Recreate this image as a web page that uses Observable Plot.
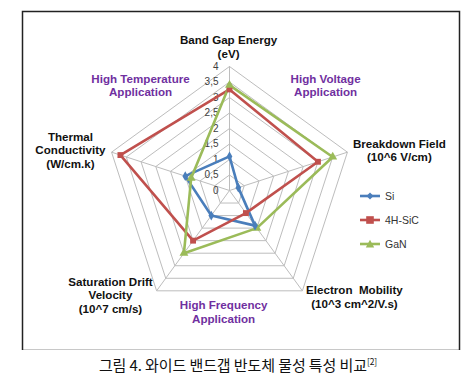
<!DOCTYPE html>
<html><head><meta charset="utf-8">
<script src="https://cdn.jsdelivr.net/npm/d3@7"></script>
<script src="https://cdn.jsdelivr.net/npm/@observablehq/plot@0.6"></script>
<style>
body{margin:0;background:#fff;}
#wrap{position:relative;width:470px;}
#legend{position:absolute;left:360px;top:184px;font-family:"Liberation Sans",Arial,sans-serif;font-size:10.5px;color:#333;}
#legend .row{height:24px;display:flex;align-items:center;}
#legend svg{margin-right:3px;}
#caption{font-family:"Noto Sans CJK KR",sans-serif;font-size:15px;color:#111;text-align:center;padding-left:6px;margin-top:4px;letter-spacing:-0.1px;}
#caption sup{font-size:8.5px;}
</style></head><body><div id="wrap"></div>
<div id="caption">그림 4. 와이드 밴드갭 반도체 물성 특성 비교<sup>[2]</sup></div>
<script>
// axes (clockwise from top)
const axisNames = ["Band Gap Energy\n(eV)", "Breakdown Field\n(10^6 V/cm)", "Electron  Mobility\n(10^3 cm^2/V.s)", "Saturation Drift\nVelocity\n(10^7 cm/s)", "Thermal\nConductivity\n(W/cm.k)"];
const seriesNames = ["Si", "4H-SiC", "GaN"];
const siValues  = [1.1, 0.3, 1.4, 1.0, 1.5];
const sicValues = [3.26, 3.0, 0.9, 2.0, 3.7];
const ganValues = [3.4, 3.5, 1.5, 2.5, 1.3];
const tickValues = [0, 0.5, 1, 1.5, 2, 2.5, 3, 3.5, 4];
const seriesColors = ["#4a7ebb", "#c0504d", "#9bbb59"];
const seriesSymbols = ["diamond", "square", "triangle"];
// label positions (data units)
const axisLabelX = [-0.03, 5.48, 4.03, -3.84, -5.13];
const axisLabelY = [4.645, 1.306, -3.42, -3.37, 1.306];
const appNames = ["High Temperature\nApplication", "High Voltage\nApplication", "High Frequency\nApplication"];
const appX = [-2.87, 3.10, -0.19];
const appY = [3.40, 3.40, -3.90];

const N = axisNames.length;
const ang = i => (i % N) * 2 * Math.PI / N;
const px = (r, i) => r * Math.sin(ang(i));
const py = (r, i) => r * Math.cos(ang(i));

const rings = [];
tickValues.filter(v => v > 0).forEach(v => {
  for (let i = 0; i <= N; i++) rings.push({level: v, x: px(v, i), y: py(v, i)});
});
const spokes = axisNames.map((n, i) => ({x2: px(4, i), y2: py(4, i)}));

const allValues = [siValues, sicValues, ganValues];
const seriesLines = [], seriesPts = [];
allValues.forEach((vals, s) => {
  for (let i = 0; i <= N; i++) {
    const p = {series: seriesNames[s], x: px(vals[i % N], i), y: py(vals[i % N], i)};
    seriesLines.push(p);
    if (i < N) seriesPts.push(p);
  }
});
const axisLabels = axisNames.map((t, i) => ({t, x: axisLabelX[i], y: axisLabelY[i]}));
const appLabels = appNames.map((t, i) => ({t, x: appX[i], y: appY[i]}));

const chart = Plot.plot({
  width: 470, height: 350,
  marginLeft: 22, marginTop: 11, marginRight: 11, marginBottom: 0,
  x: {domain: [-4, 4], range: [105, 353], axis: null},
  y: {domain: [-4, 4], range: [314, 66], axis: null},
  color: {domain: seriesNames, range: seriesColors},
  symbol: {domain: seriesNames, range: seriesSymbols},
  style: {fontFamily: "'Liberation Sans', Arial, sans-serif", background: "#fff"},
  marks: [
    Plot.line(rings, {x: "x", y: "y", z: "level", stroke: "#bdbdbd", strokeWidth: 1}),
    Plot.link(spokes, {x1: () => 0, y1: () => 0, x2: "x2", y2: "y2", stroke: "#bdbdbd", strokeWidth: 1}),
    Plot.text(tickValues, {x: () => 0, y: d => d, text: d => String(d).replace(".", ","), textAnchor: "end", dx: -11, fontSize: 10, fill: "#404040"}),
    Plot.line(seriesLines, {x: "x", y: "y", z: "series", stroke: "series", strokeWidth: 2.6}),
    Plot.dot(seriesPts, {x: "x", y: "y", fill: "series", symbol: "series", r: d => d.series === "Si" ? 3.6 : 4.4, stroke: "none"}),
    Plot.text(axisLabels, {x: "x", y: "y", text: "t", fontSize: 11.6, fontWeight: "bold", fill: "#111", lineHeight: 1.18, lineAnchor: "middle"}),
    Plot.text(appLabels, {x: "x", y: "y", text: "t", fontSize: 11.6, fontWeight: "bold", fill: "#7030a0", lineHeight: 1.18, lineAnchor: "middle"}),
    Plot.frame({stroke: "#222", strokeWidth: 1.5})
  ]
});
document.getElementById("wrap").appendChild(chart);

// legend
const sym = {
  diamond: '<path d="M10 2.5 L13.5 6 L10 9.5 L6.5 6Z"/>',
  square: '<rect x="6.2" y="2.2" width="7.6" height="7.6"/>',
  triangle: '<path d="M10 1.8 L14.2 9.5 L5.8 9.5Z"/>'
};
const leg = document.createElement("div");
leg.id = "legend";
leg.innerHTML = seriesNames.map((n, i) =>
  `<div class="row"><svg width="22" height="12"><line x1="0" y1="6" x2="20" y2="6" stroke="${seriesColors[i]}" stroke-width="2.6"/><g fill="${seriesColors[i]}">${sym[seriesSymbols[i]]}</g></svg>${n}</div>`
).join("");
document.getElementById("wrap").appendChild(leg);
</script></body></html>
